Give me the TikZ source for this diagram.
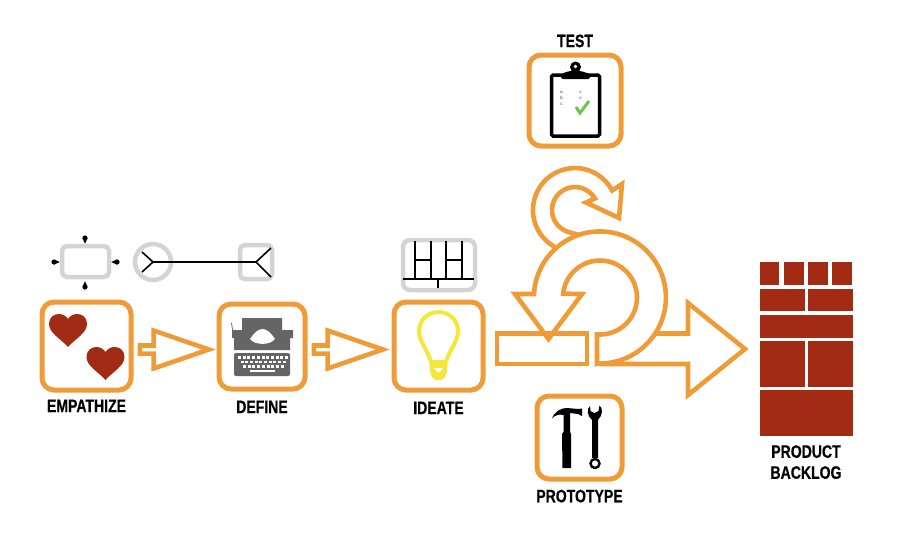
\documentclass[tikz,border=0pt]{standalone}
\usepackage{fontspec}
\newfontfamily\labelfont{Liberation Sans}[FakeStretch=0.78, BoldFeatures={FakeBold=0.5}]
\newfontfamily\smallfont{Liberation Sans}
\usetikzlibrary{arrows,positioning,shapes.arrows}
\definecolor{stepcolor}{HTML}{EF9B38}
\definecolor{brickcolor}{HTML}{A32B14}
\definecolor{greycolor}{HTML}{D4D4D4}
\definecolor{machinecolor}{HTML}{656565}
\definecolor{bulbcolor}{HTML}{F5E63A}
\definecolor{tickcolor}{HTML}{6CC551}
\tikzset{
  stepbox/.style = {shape=rectangle, rounded corners=12pt, draw=stepcolor,
    line width=5pt, inner sep=0pt},
  greybox/.style = {shape=rectangle, rounded corners=5pt, draw=greycolor,
    line width=4.5pt, inner sep=0pt},
  steplabel/.style = {font=\labelfont\bfseries\fontsize{18}{21}\selectfont,
    inner sep=0pt, align=center},
  blockarrow/.style = {shape=single arrow, draw=stepcolor, line width=4.6pt,
    inner sep=0pt, minimum width=38pt, minimum height=69pt,
    single arrow head extend=8.5pt, single arrow head indent=0pt,
    single arrow tip angle=38, miter limit=10},
  bigarrow/.style = {draw=stepcolor, line width=4.6pt, miter limit=10},
  inkline/.style = {draw=black, line width=1.6pt},
  heart/.pic = {
    \fill[brickcolor] (0,33) .. controls (-7,25) and (-19,19) .. (-19,10)
      .. controls (-19,3) and (-14,0) .. (-9,0)
      .. controls (-5,0) and (-2,2) .. (0,5)
      .. controls (2,2) and (5,0) .. (9,0)
      .. controls (14,0) and (19,3) .. (19,10)
      .. controls (19,19) and (7,25) .. (0,33) -- cycle;
  },
  drop/.pic = {
    \fill (0,0) circle (2.6pt);
    \fill (0.4,-2.5) -- (5.6,0) -- (0.4,2.5) -- cycle;
  }
}
\begin{document}
\begin{tikzpicture}[x=1pt, y=-1pt]
  \useasboundingbox (0,0) rectangle (910,550);

  % step boxes
  \node[stepbox, minimum width=89pt, minimum height=88pt] (empathize) at (86.5,346) {};
  \node[stepbox, minimum width=86pt, minimum height=85pt] (define) at (262,346.5) {};
  \node[stepbox, minimum width=89pt, minimum height=88pt] (ideate) at (438.5,346) {};
  \node[stepbox, minimum width=92pt, minimum height=91pt] (test) at (575,100.5) {};
  \node[stepbox, minimum width=85pt, minimum height=83pt] (prototype) at (579.5,437.5) {};

  \node[steplabel, below=7pt of empathize] (empathizelabel) {EMPATHIZE};
  \node[steplabel, below=9pt of define] (definelabel) {DEFINE};
  \node[steplabel, below=9pt of ideate] (ideatelabel) {IDEATE};
  \node[steplabel, above=5pt of test] (testlabel) {TEST};
  \node[steplabel, below=8pt of prototype] (prototypelabel) {PROTOTYPE};

  \node[blockarrow, right=4pt of empathize, yshift=-3.5pt] (firstarrow) {};
  \node[blockarrow, right=4pt of define, yshift=-3pt] (secondarrow) {};

  % loop with the big arrow
  \draw[bigarrow] (497,333.5) rectangle (587,364);
  \draw[bigarrow, line join=miter] (597,334.5) -- (600,334.5)
    arc[start angle=-90, end angle=174, radius=37pt]
    -- (582,294) -- (548.5,339) -- (515,294) -- (534,294)
    arc[start angle=177, end angle=-90, radius=66pt]
    -- (597,364) -- cycle;
  \draw[bigarrow, line join=miter] (655,333.5) -- (688,333.5) -- (688,303)
    -- (745,349) -- (688,395) -- (688,364) -- (600,364);
  \draw[bigarrow, line join=miter] (556,249) -- (553.1,245.9)
    arc[start angle=238.6, end angle=27.8, radius=42pt]
    -- (622,184) -- (619,218) -- (586,202.5) -- (594.9,198.5)
    arc[start angle=30, end angle=257, radius=23pt] -- (579,235);

  % hearts
  \pic at (68,314) {heart};
  \pic at (105.5,347) {heart};

  % typewriter
  \fill[machinecolor] (242,318) -- (282,318) -- (282,330) -- (293,330) -- (293,338)
    -- (290,338) -- (290,350) -- (234,350) -- (234,338) -- (232,338) -- (232,330)
    -- (242,330) -- cycle;
  \fill[machinecolor, rounded corners=2pt] (234,353) rectangle (290,376);
  \draw[machinecolor, line width=0.8pt] (233,333) -- (231.5,323);
  \fill[white] (250,339) .. controls (254,333) and (258,329) .. (262.5,329)
    .. controls (267,329) and (271,333) .. (275,339)
    .. controls (270,345.5) and (255,345.5) .. (250,339) -- cycle;
  \foreach \k in {0,...,10} \fill[white] (238+4.7*\k,356) rectangle ++(3,2.6);
  \foreach \k in {0,...,9} \fill[white] (240.5+4.7*\k,360.5) rectangle ++(3,2.6);
  \foreach \k in {0,...,8} \fill[white] (243+4.7*\k,365) rectangle ++(3,2.6);
  \fill[white] (250,369.5) rectangle (275,372);

  % bulb
  \draw[bulbcolor, line width=4pt] (431,362)
    .. controls (428,350) and (419,342) .. (419,331)
    .. controls (419,320) and (428,312) .. (438.5,312)
    .. controls (449,312) and (458,320) .. (458,331)
    .. controls (458,342) and (449,350) .. (446,362);
  \fill[bulbcolor, rounded corners=2pt] (429.5,360) -- (447.5,360) -- (447,373)
    -- (443,380) -- (434,380) -- (430,373) -- cycle;
  \fill[white] (434,368) -- (443,368) -- (440,372) -- (437,372) -- cycle;

  % clipboard
  \draw[black, line width=3.5pt, rounded corners=1.5pt, fill=white] (551.5,75) rectangle (599.5,136);
  \fill[black, rounded corners=2pt] (561,79) -- (561,74) -- (569,71) -- (581,71) -- (590,74)
    -- (590,79) -- cycle;
  \fill[black] (575.5,67) circle (5.5pt);
  \fill[white] (575.5,66.5) circle (1.8pt);
  \foreach \t/\ty in {a./92,b./98,c./104}
    \node[font=\smallfont\fontsize{4.5}{5}\selectfont, text=black!70, inner sep=0pt] at (562,\ty) {\t};
  \foreach \ty in {92,98}
    \node[font=\smallfont\fontsize{4.5}{5}\selectfont, text=black!70, inner sep=0pt] at (580.5,\ty) {x};
  \draw[tickcolor, line width=3pt] (576,107) -- (580,113) -- (589,101);

  % hammer and wrench
  \fill[black] (552,418.5) .. controls (555,411) and (561,408) .. (567,408)
    -- (578,409) -- (582,408.5) -- (582,416) -- (578,414) -- (570,413) -- (570,432)
    -- (571,434) -- (571,468) -- (562.5,468) -- (562,434) -- (563.5,432) -- (563.5,415)
    .. controls (559,414) and (555,415) .. (552,418.5) -- cycle;
  \fill[black] (590,406) -- (590.5,411) -- (594.5,413) -- (598.5,411) -- (599.5,405.5)
    .. controls (603,408) and (603,415) .. (598,420) -- (598,458) -- (592,458) -- (592,420)
    .. controls (587,416) and (586.5,409) .. (590,406) -- cycle;
  \draw[black, line width=2.4pt, fill=white] (595,463.5) circle (4.5pt);

  % grey sketches
  \node[greybox, minimum width=47pt, minimum height=31pt] (mapbox) at (85.5,261.5) {};
  \pic[rotate=-90] at (85,238) {drop};
  \pic[rotate=90] at (85,287) {drop};
  \pic at (54,262) {drop};
  \pic[rotate=180] at (117,262) {drop};

  \node[shape=circle, draw=greycolor, line width=4.5pt, minimum size=36pt, inner sep=0pt] (pointcircle) at (153,262) {};
  \node[greybox, minimum width=32pt, minimum height=34pt] (pointsquare) at (256,262) {};
  \draw[inkline] (pointcircle.center) -- (pointsquare.center);
  \draw[inkline] (142,252) -- (pointcircle.center) -- (142,272);
  \draw[inkline] (271,248) -- (pointsquare.center) -- (271,277);

  \node[greybox, rounded corners=7pt, minimum width=72pt, minimum height=50pt] (treebox) at (439,265) {};
  \draw[inkline] (403,279) -- (474,279);
  \draw[inkline] (438,279) -- (438,288);
  \foreach \tx in {415,431,446,462}
    \draw[inkline] (\tx,241) -- (\tx,279);
  \draw[inkline] (415,260) -- (431,260);
  \draw[inkline] (446,260) -- (462,260);

  % backlog bricks
  \foreach \xa/\ya/\xb/\yb in {760/262/779/285, 784/262/804/285, 808/262/828/285, 832/262/852/285,
      760/289/805/311, 808/289/853/311, 760/315/853/338,
      760/341/805/387, 808/341/853/387, 760/390/853/436}
    \fill[brickcolor] (\xa,\ya) rectangle (\xb,\yb);
  \coordinate (wallbottom) at (806,436);
  \node[steplabel, below=9pt of wallbottom] (backloglabel) {PRODUCT\\BACKLOG};
\end{tikzpicture}
\end{document}
